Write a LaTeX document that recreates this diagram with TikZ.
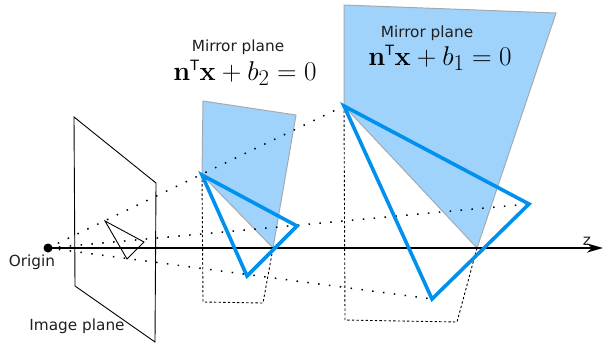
\documentclass[tikz,border=0pt]{standalone}
\usepackage{amsmath,amssymb}
\usepackage[no-math]{fontspec}
\usepackage{xcolor}
\usetikzlibrary{arrows.meta}
\newfontfamily\labelfont{DejaVu Sans}
\definecolor{planeblue}{RGB}{159,211,252}
\definecolor{edgeblue}{RGB}{0,145,238}
\definecolor{planegray}{RGB}{165,170,175}
\newcommand{\transp}{\text{\labelfont\fontsize{13}{13}\selectfont T}}
\tikzset{
  lbl/.style      = {font=\labelfont\fontsize{15.3}{18}\selectfont, text=black!88, inner sep=0pt},
  eqn/.style      = {font=\fontsize{24.88}{30}\selectfont, inner sep=0pt, scale=1.09, transform shape},
  mirror/.style   = {draw=planegray, fill=planeblue, line width=1pt},
  frameline/.style= {draw=black, line width=0.9pt},
  ray/.style      = {draw=black, line width=1.5pt, dash pattern=on 1.5pt off 9.4pt},
  drop/.style     = {draw=black, line width=0.9pt, dash pattern=on 2.4pt off 2.2pt},
  tri/.style      = {draw=edgeblue, line width=3.6pt, line join=miter},
  axis/.style     = {-{Stealth[length=16pt,width=9pt,inset=5pt]}, draw=black, line width=1.7pt},
}
\begin{document}
\begin{tikzpicture}[x=1pt,y=-1pt]
  \useasboundingbox (0,0) rectangle (605,343);

  % image plane
  \coordinate (p1) at (74,117);
  \coordinate (p2) at (156,183);
  \coordinate (p3) at (155,342);
  \coordinate (p4) at (75,286);
  \draw[frameline] (p1) -- (p2) -- (p3) -- (p4) -- cycle;

  % second mirror
  \coordinate (a1) at (203,101);
  \coordinate (a2) at (296,115);
  \coordinate (a3) at (273,248);
  \coordinate (a4) at (202,175);
  \coordinate (a5) at (297,226);
  \coordinate (a6) at (247,276);
  \coordinate (a7) at (203,302);
  \coordinate (a8) at (263,303);

  % first mirror
  \coordinate (b1) at (344,5);
  \coordinate (b2) at (556,13);
  \coordinate (b3) at (477,248);
  \coordinate (b4) at (344,106);
  \coordinate (b5) at (529,204);
  \coordinate (b6) at (432,299);
  \coordinate (b7) at (345,320);
  \coordinate (b8) at (457,322);

  \draw[mirror] (a1) -- (a2) -- (a3) -- (a4) -- cycle;
  \draw[mirror] (b1) -- (b2) -- (b3) -- (b4) -- cycle;
  \draw[drop] (a4) -- (a7) -- (a8) -- (a3);
  \draw[drop] (b4) -- (b7) -- (b8) -- (b3);

  % origin and axis
  \coordinate (orig) at (48,248);
  \coordinate (zend) at (603,248);
  \draw[axis] (orig) -- (zend);
  \fill (orig) circle (4.5pt);

  % rays
  \draw[ray] (orig) -- (b4);
  \draw[ray] (orig) -- (b5);
  \draw[ray] (orig) -- (b6);

  % projected triangle
  \coordinate (c1) at (105,221);
  \coordinate (c2) at (144,242);
  \coordinate (c3) at (127,259);
  \draw[frameline] (c1) -- (c2) -- (c3) -- cycle;

  \draw[tri] (a4) -- (a5) -- (a6) -- cycle;
  \draw[tri] (b4) -- (b5) -- (b6) -- cycle;

  % labels
  \node[lbl] (origin) at (32,262) {Origin};
  \node[lbl] (image) at (77,326) {Image plane};
  \node[lbl] (zlabel) at (587,241) {z};
  \node[lbl] (planea) at (238,47) {Mirror plane};
  \node[eqn] (eqa) at (245,73) {$\mathbf{n}^{\transp}\mathbf{x}+b_2=0$};
  \node[lbl] (planeb) at (427,33) {Mirror plane};
  \node[eqn] (eqb) at (440,58) {$\mathbf{n}^{\transp}\mathbf{x}+b_1=0$};
\end{tikzpicture}
\end{document}
